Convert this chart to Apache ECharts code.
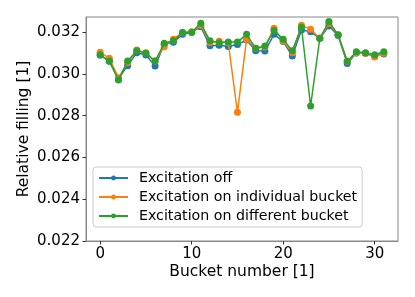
<!DOCTYPE html>
<html><head><meta charset="utf-8">
<script src="https://cdn.jsdelivr.net/npm/echarts@6/dist/echarts.min.js"></script>
<style>html,body{margin:0;padding:0;background:#fff}#c{width:415px;height:297px}</style>
</head><body><div id="c"></div>
<script>
const buckets = [0,1,2,3,4,5,6,7,8,9,10,11,12,13,14,15,16,17,18,19,20,21,22,23,24,25,26,27,28,29,30,31];
const excitationOff = [0.0309,0.0306,0.02977,0.03039,0.03101,0.0309,0.03037,0.03141,0.03151,0.03189,0.03198,0.03225,0.03134,0.03137,0.03131,0.0314,0.03162,0.03111,0.03109,0.03189,0.03155,0.03085,0.0321,0.03202,0.0317,0.03229,0.03183,0.0305,0.031,0.03098,0.03085,0.03095];
const excitationIndividual = [0.03103,0.03074,0.02981,0.03053,0.03114,0.03101,0.03061,0.0313,0.03166,0.03198,0.032,0.03233,0.0315,0.03156,0.03149,0.02816,0.03166,0.03122,0.03128,0.03218,0.03157,0.03101,0.03233,0.03213,0.0317,0.03242,0.03187,0.0306,0.031,0.03098,0.0308,0.03098];
const excitationDifferent = [0.0309,0.03061,0.0297,0.03061,0.03111,0.03098,0.03061,0.03146,0.03158,0.03198,0.032,0.03242,0.03158,0.03149,0.03152,0.03152,0.03189,0.03122,0.03133,0.03207,0.03165,0.03111,0.03223,0.02846,0.0317,0.0325,0.03187,0.0306,0.03106,0.03101,0.03091,0.03106];
const seriesNames = ['Excitation off','Excitation on individual bucket','Excitation on different bucket'];
const xTicks = [0,10,20,30];
const yTicks = [0.022,0.024,0.026,0.028,0.030,0.032];
const colors = ['#1f77b4','#ff7f0e','#2ca02c'];
const font = 'DejaVu Sans';
const all = [excitationOff, excitationIndividual, excitationDifferent];
const chart = echarts.init(document.getElementById('c'), null, {renderer:'canvas'});
chart.setOption({
  animation:false,
  backgroundColor:'#fff',
  grid:{left:86,right:17,top:17,bottom:56,show:true,borderColor:'#888',borderWidth:1,containLabel:false},
  xAxis:{type:'value',min:-1.55,max:32.55,
    name:'Bucket number [1]',nameLocation:'middle',nameGap:23,nameMoveOverlap:false,
    nameTextStyle:{fontFamily:font,fontSize:15.5,color:'#000'},
    axisLine:{show:true,onZero:false,lineStyle:{color:'#888',width:1}},
    axisTick:{show:true,customValues:xTicks,length:3.5,lineStyle:{color:'#333'}},
    axisLabel:{customValues:xTicks,fontFamily:font,fontSize:15,color:'#000',margin:6,formatter:v=>String(v)},
    splitLine:{show:false}},
  yAxis:{type:'value',min:0.022,max:0.03272,
    name:'Relative filling [1]',nameLocation:'middle',nameGap:54,nameMoveOverlap:false,
    nameTextStyle:{fontFamily:font,fontSize:15.5,color:'#000'},
    axisLine:{show:true,onZero:false,lineStyle:{color:'#888',width:1}},
    axisTick:{show:true,customValues:yTicks,length:3.5,lineStyle:{color:'#333'}},
    axisLabel:{customValues:yTicks,fontFamily:font,fontSize:15,color:'#000',margin:6,formatter:v=>v.toFixed(3)},
    splitLine:{show:false}},
  legend:{orient:'vertical',left:93,top:167,
    backgroundColor:'rgba(255,255,255,0.8)',borderColor:'#ccc',borderWidth:1,borderRadius:3,
    padding:[4,5,4,5],itemWidth:29,itemHeight:6,itemGap:5,
    textStyle:{fontFamily:font,fontSize:14.2,color:'#000',padding:[0,0,0,6]},
    data:seriesNames},
  series: all.map((vals,k)=>({
    name:seriesNames[k],type:'line',
    data:buckets.map((b,i)=>[b,vals[i]]),
    symbol:'circle',symbolSize:7,
    lineStyle:{width:1.5,color:colors[k]},
    itemStyle:{color:colors[k]},
    z:2+k
  }))
});
</script></body></html>
